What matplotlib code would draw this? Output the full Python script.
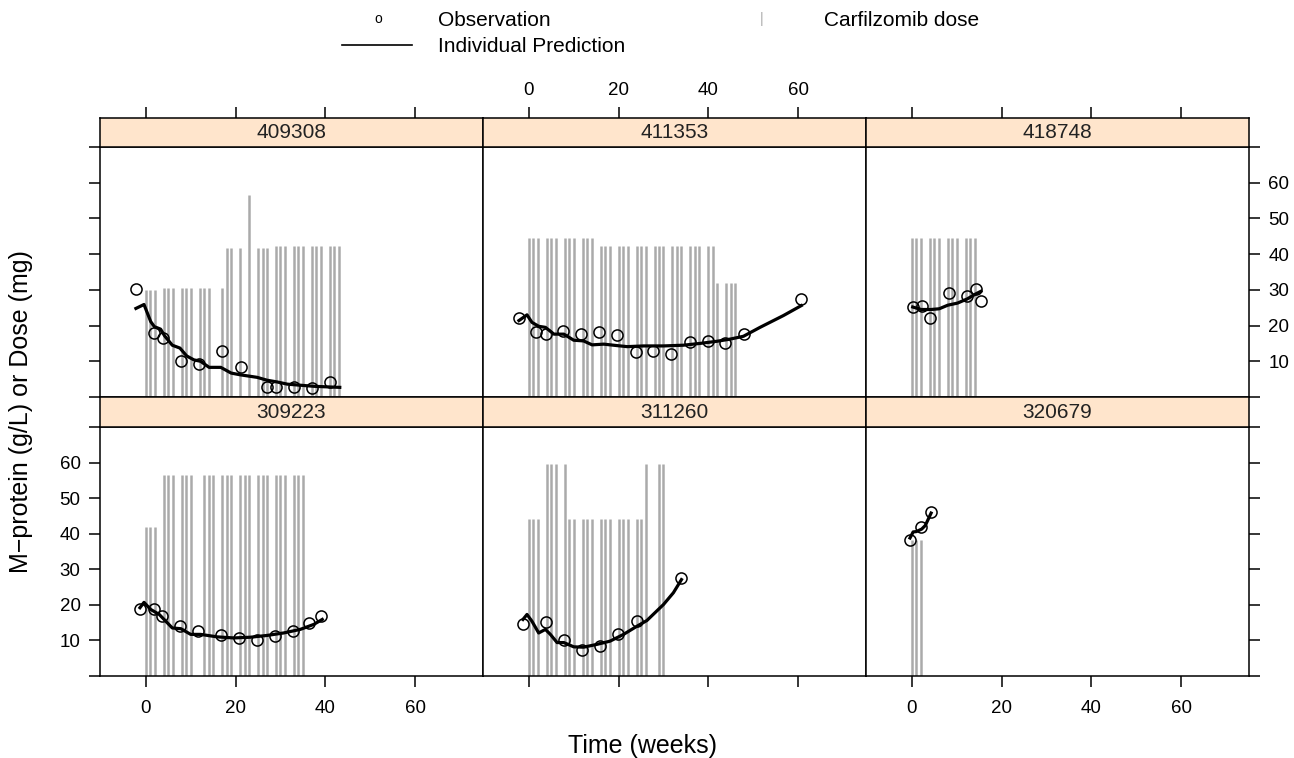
import matplotlib.pyplot as plt
from matplotlib.lines import Line2D

plt.rcParams['font.family'] = ['Liberation Sans', 'DejaVu Sans']

panel_ids = ['409308', '411353', '418748', '309223', '311260', '320679']

# observed M-protein (weeks, g/L)
obs_409308_t = [-2.2, 1.9, 3.8, 7.9, 11.9, 16.9, 21.1, 27.0, 29.0, 33.0, 37.0, 41.0]
obs_409308_v = [30.2, 17.8, 16.4, 10.0, 9.3, 12.8, 8.4, 2.9, 2.9, 2.8, 2.6, 4.1]
obs_411353_t = [-2.2, 1.6, 3.8, 7.7, 11.7, 15.7, 19.7, 23.9, 27.7, 31.7, 35.8, 39.8, 43.8, 47.9, 60.7]
obs_411353_v = [22.1, 18.1, 17.6, 18.5, 17.7, 18.1, 17.4, 12.7, 12.9, 12.0, 15.3, 15.8, 15.2, 17.7, 27.4]
obs_418748_t = [0.2, 2.2, 4.1, 8.2, 12.2, 14.4, 15.5]
obs_418748_v = [25.2, 25.4, 22.1, 29.2, 28.4, 30.2, 27.0]
obs_309223_t = [-1.3, 1.9, 3.7, 7.6, 11.7, 16.8, 20.8, 24.8, 28.7, 32.8, 36.4, 39.0]
obs_309223_v = [18.7, 18.7, 17.0, 14.0, 12.6, 11.4, 10.7, 10.2, 11.2, 12.7, 14.9, 16.8]
obs_311260_t = [-1.3, 3.9, 7.9, 11.9, 15.9, 19.9, 24.0, 34.0]
obs_311260_v = [14.6, 15.1, 10.1, 7.2, 8.5, 11.7, 15.5, 27.5]
obs_320679_t = [-0.4, 2.1, 4.3]
obs_320679_v = [38.1, 42.0, 46.2]

# individual predictions
pred_409308_t = [-2.2, -0.4, 1.1, 1.9, 3.3, 4.2, 5.9, 7.6, 9.1, 10.7, 12.2, 14.1, 16.7, 19.0,
                 21.1, 24.8, 27.0, 29.3, 31.5, 34.4, 37.4, 41.1, 43.2]
pred_409308_v = [24.8, 25.9, 21.1, 19.7, 19.0, 17.1, 14.5, 13.7, 11.5, 10.4, 10.0, 8.3, 8.3, 6.7,
                 6.2, 5.5, 4.7, 4.2, 3.6, 3.3, 3.0, 2.8, 2.7]
pred_411353_t = [-2.2, -0.4, 0.7, 2.2, 3.7, 5.6, 7.8, 10.0, 12.2, 14.1, 16.7, 19.6, 21.9, 25.6,
                 30.0, 34.4, 38.1, 41.9, 44.8, 47.8, 51.5, 56.7, 60.7]
pred_411353_v = [21.4, 23.0, 20.9, 19.8, 19.5, 17.6, 17.6, 15.9, 15.7, 14.6, 14.8, 14.4, 14.1, 14.3,
                 14.3, 14.5, 15.0, 15.6, 16.2, 17.0, 19.5, 22.8, 25.6]
pred_418748_t = [0.2, 2.1, 4.3, 6.1, 8.0, 10.2, 12.4, 14.3, 15.4]
pred_418748_v = [25.2, 24.5, 24.5, 24.7, 25.7, 26.3, 27.5, 28.9, 29.6]
pred_309223_t = [-1.3, -0.4, 1.1, 3.0, 5.9, 7.8, 10.0, 12.2, 15.9, 19.6, 23.3, 27.0, 30.7, 34.4,
                 37.4, 39.3]
pred_309223_v = [19.2, 20.7, 18.7, 17.3, 13.5, 13.3, 11.7, 11.7, 11.0, 10.7, 10.9, 11.4, 12.1, 13.1,
                 14.5, 15.9]
pred_311260_t = [-1.3, -0.4, 0.7, 2.2, 3.7, 4.8, 6.3, 7.8, 10.0, 12.2, 15.2, 18.1, 21.1, 24.1,
                 26.3, 30.0, 32.2, 34.0]
pred_311260_v = [15.9, 17.3, 15.4, 12.1, 13.1, 11.7, 9.4, 9.4, 8.2, 8.1, 8.9, 9.8, 11.7, 14.0,
                 15.6, 20.1, 23.4, 27.1]
pred_320679_t = [-0.4, 0.3, 1.0, 2.2, 3.0, 4.3]
pred_320679_v = [38.8, 40.5, 40.6, 41.3, 42.3, 45.8]

# carfilzomib doses (weeks, mg)
dose_409308_t = [0, 1, 2, 4, 5, 6, 8, 9, 10, 12, 13, 14, 17, 18, 19, 21, 23, 25, 26, 27,
                 29, 30, 31, 33, 34, 35, 37, 38, 39, 41, 42, 43]
dose_409308_v = [30.0, 30.0, 30.0, 30.6, 30.6, 30.6, 30.6, 30.6, 30.6, 30.6, 30.6, 30.6,
                 30.6, 41.6, 41.6, 41.6, 56.5, 41.6, 41.6, 41.6,
                 42.4, 42.4, 42.4, 42.4, 42.4, 42.4, 42.4, 42.4, 42.4, 42.4, 42.4, 42.4]
dose_411353_t = [0, 1, 2, 4, 5, 6, 8, 9, 10, 12, 13, 14, 16, 17, 18, 20, 21, 22, 24, 25, 26,
                 28, 29, 30, 32, 33, 34, 36, 37, 38, 40, 41, 42, 44, 45, 46]
dose_411353_v = [44.5] * 12 + [42.4] * 20 + [31.9] * 4
dose_418748_t = [0, 1, 2, 4, 5, 6, 8, 9, 10, 12, 13, 14]
dose_418748_v = [44.5] * 12
dose_309223_t = [0, 1, 2, 4, 5, 6, 8, 9, 10, 13, 14, 15, 17, 18, 19, 21, 22, 23, 25, 26, 27,
                 29, 30, 31, 33, 34, 35]
dose_309223_v = [42.0] * 3 + [56.5] * 24
dose_311260_t = [0, 1, 2, 4, 5, 6, 8, 9, 10, 12, 13, 14, 16, 17, 18, 20, 21, 22, 24, 25, 26, 29, 30]
dose_311260_v = [44.2, 44.2, 44.2, 59.5, 59.5, 59.5, 59.5, 44.2, 44.2, 44.2, 44.2, 44.2,
                 44.2, 44.2, 44.2, 44.2, 44.2, 44.2, 44.2, 44.2, 59.5, 59.5, 59.5]
dose_320679_t = [0, 1, 2]
dose_320679_v = [38.3, 38.3, 38.3]

obs_t = [obs_409308_t, obs_411353_t, obs_418748_t, obs_309223_t, obs_311260_t, obs_320679_t]
obs_v = [obs_409308_v, obs_411353_v, obs_418748_v, obs_309223_v, obs_311260_v, obs_320679_v]
pred_t = [pred_409308_t, pred_411353_t, pred_418748_t, pred_309223_t, pred_311260_t, pred_320679_t]
pred_v = [pred_409308_v, pred_411353_v, pred_418748_v, pred_309223_v, pred_311260_v, pred_320679_v]
dose_t = [dose_409308_t, dose_411353_t, dose_418748_t, dose_309223_t, dose_311260_t, dose_320679_t]
dose_v = [dose_409308_v, dose_411353_v, dose_418748_v, dose_309223_v, dose_311260_v, dose_320679_v]

x_ticks = [0, 20, 40, 60]
y_ticks = [0, 10, 20, 30, 40, 50, 60, 70]
y_labels = ['', '10', '20', '30', '40', '50', '60', '']

W, H = 1294, 758
fig = plt.figure(figsize=(W / 100, H / 100), dpi=100)

col_left = [100, 483, 866]
col_w = 383
# (strip top, panel top, panel bottom) in pixels
rows = [(118, 147, 397), (397, 427, 676)]
frame_lw = 1.1
tick_fs = 13.5
text_fs = 15

for i in range(6):
    r = i // 3
    c = i % 3
    s_top, p_top, p_bot = rows[r]
    ax = fig.add_axes([col_left[c] / W, 1 - p_bot / H, col_w / W, (p_bot - p_top) / H])
    sax = fig.add_axes([col_left[c] / W, 1 - p_top / H, col_w / W, (p_top - s_top) / H])

    ax.vlines(dose_t[i], 0, dose_v[i], colors='#aaaaaa', lw=1.8, zorder=1)
    ax.plot(pred_t[i], pred_v[i], color='black', lw=2.3, zorder=2)
    ax.plot(obs_t[i], obs_v[i], 'o', mfc='none', mec='black', ms=8, mew=1.1, zorder=3)

    ax.set_xlim(-10.2, 75.1)
    ax.set_ylim(0, 70)
    ax.set_xticks(x_ticks)
    ax.set_yticks(y_ticks)
    ax.set_yticklabels(y_labels)
    ax.tick_params(direction='out', length=8, width=frame_lw, labelsize=tick_fs, pad=6,
                   bottom=(r == 1), labelbottom=(r == 1 and c != 1),
                   top=False, labeltop=False,
                   left=(c == 0), labelleft=(c == 0 and r == 1),
                   right=(c == 2), labelright=(c == 2 and r == 0))
    ax.tick_params(axis='x', pad=9)
    for sp in ax.spines.values():
        sp.set_linewidth(frame_lw)

    sax.set_facecolor('#ffe5cc')
    sax.set_xlim(-10.2, 75.1)
    sax.set_ylim(0, 1)
    sax.set_yticks([])
    sax.set_xticks(x_ticks)
    sax.tick_params(direction='out', length=8, width=frame_lw, labelsize=tick_fs, pad=6,
                    bottom=False, labelbottom=False,
                    top=(r == 0), labeltop=(r == 0 and c == 1))
    for sp in sax.spines.values():
        sp.set_linewidth(frame_lw)
    sax.text(0.5, 0.5, panel_ids[i], transform=sax.transAxes, ha='center', va='center',
             fontsize=text_fs, color='#222222')

# legend on top
fig.text(378 / W, 1 - 19 / H, 'o', ha='center', va='center', fontsize=10)
fig.add_artist(Line2D([342 / W, 412 / W], [1 - 45 / H, 1 - 45 / H], color='black', lw=1.2))
fig.text(438 / W, 1 - 21 / H, 'Observation', ha='left', va='center', fontsize=text_fs)
fig.text(438 / W, 1 - 46 / H, 'Individual Prediction', ha='left', va='center', fontsize=text_fs)
fig.text(762 / W, 1 - 19 / H, '|', ha='center', va='center', fontsize=10, color='#aaaaaa')
fig.text(824 / W, 1 - 21 / H, 'Carfilzomib dose', ha='left', va='center', fontsize=text_fs)

fig.text(21 / W, 1 - 412 / H, 'M\u2212protein (g/L) or Dose (mg)', rotation=90,
         ha='center', va='center', fontsize=18)
fig.text(642 / W, 1 - 746 / H, 'Time (weeks)', ha='center', va='center', fontsize=18)

fig.savefig('out.png', dpi=100)
